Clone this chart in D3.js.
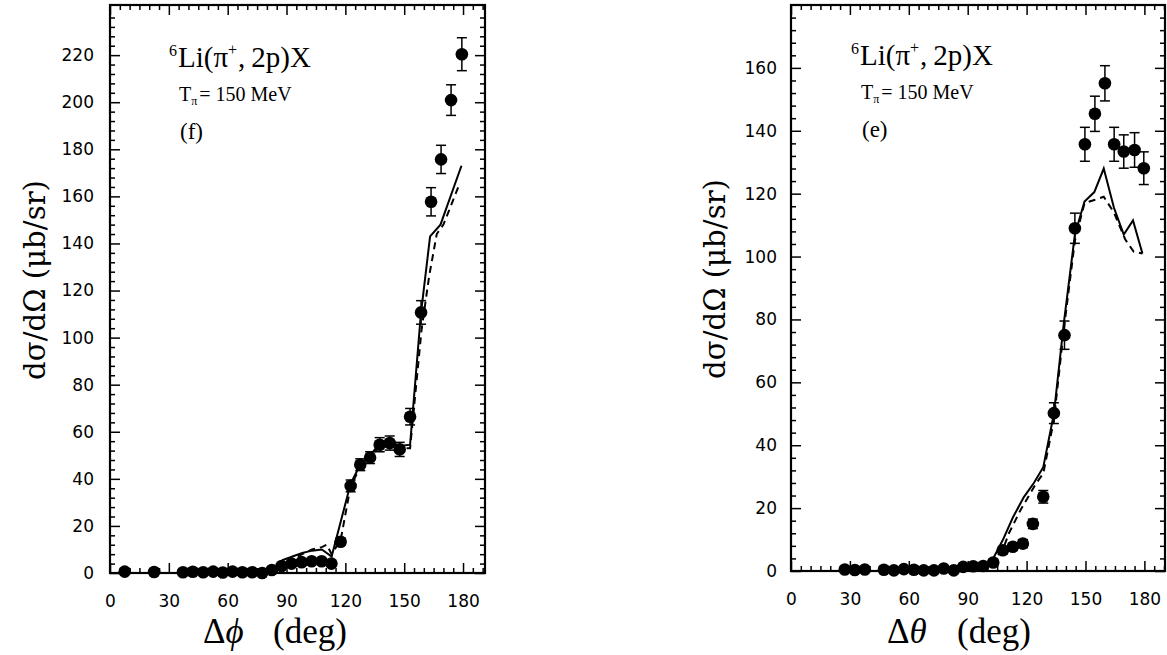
<!DOCTYPE html>
<html>
<head>
<meta charset="utf-8">
<script src="https://cdn.jsdelivr.net/npm/d3@7"></script>
<style>
  html, body { margin: 0; padding: 0; background: #fff; }
  svg { display: block; }
  .tick text { font-family: "DejaVu Sans", "Liberation Sans", sans-serif; font-size: 17px; fill: #000; }
  .domain { display: none; }
  .tick line { stroke: #000; stroke-width: 1.5; }
</style>
</head>
<body>
<svg id="chart" width="1167" height="655"></svg>
<script>
// Shared tick labels (degrees)
const angleTicks = [0, 30, 60, 90, 120, 150, 180];
const phiYTicks = [0, 20, 40, 60, 80, 100, 120, 140, 160, 180, 200, 220];
const thetaYTicks = [0, 20, 40, 60, 80, 100, 120, 140, 160];

// Panel (f): azimuthal correlation, Δφ
const phiAngles = [7.5, 22.5, 37.2, 42.2, 47.5, 52.6, 57.5, 62.5, 67.5, 72.5, 77.6, 82.5, 87.5, 92.6, 97.7, 102.8, 107.9, 112.9, 117.6, 122.7, 127.6, 132.6, 137.5, 142.6, 147.7, 153.0, 158.6, 163.7, 168.8, 173.9, 179.4];
const phiValues = [0.6, 0.4, 0.3, 0.5, 0.3, 0.6, 0.2, 0.6, 0.3, 0.3, 0.0, 1.3, 3.0, 4.0, 4.6, 5.0, 5.0, 4.0, 13.3, 37.0, 46.0, 49.0, 54.5, 55.2, 52.5, 66.4, 110.7, 157.7, 175.7, 200.9, 220.4];
const phiErrors = [1, 1, 1, 1, 1, 1, 1, 1, 1, 1, 1, 1, 1, 1, 1, 1, 1, 1, 1.5, 2.5, 2.5, 2.5, 3, 3, 3, 3.5, 5, 6, 6, 6.5, 7];
const phiSolidX = [80, 85, 88, 93, 98, 103, 108, 113, 122.7, 127.6, 132.6, 137.5, 142.6, 147.7, 153.0, 158.5, 163.2, 168.5, 179.2];
const phiSolidY = [0, 2, 5.5, 7, 8.5, 9.5, 10, 7, 38, 46, 50, 55, 56, 54, 54.5, 110, 143, 148, 173];
const phiDashX = [80, 85, 88, 93, 98, 103, 108, 110.5, 113, 117.6, 122.7, 127.6, 132.6, 137.5, 142.6, 147.7, 153.0, 158.8, 162.7, 166.6, 170, 177.6];
const phiDashY = [0, 1, 4, 6, 8, 10, 11, 12, 8, 14, 37, 45, 49, 54, 55, 53, 53, 103, 126, 144, 148, 164];

// Panel (e): polar opening angle, Δθ
const thetaAngles = [27.4, 32.5, 37.6, 47.3, 52.4, 57.5, 62.6, 67.6, 72.8, 77.8, 82.9, 87.7, 92.8, 97.9, 103.0, 107.9, 113.0, 118.1, 123.2, 128.5, 133.9, 139.3, 144.6, 149.7, 154.8, 159.9, 164.6, 169.5, 175.0, 179.7];
const thetaValues = [0.5, 0.3, 0.5, 0.4, 0.2, 0.6, 0.4, 0.2, 0.2, 0.8, 0.2, 1.3, 1.5, 1.6, 2.7, 6.6, 7.7, 8.7, 15.0, 23.6, 50.2, 75.0, 109.0, 135.7, 145.4, 155.1, 135.7, 133.4, 133.9, 128.1];
const thetaErrors = [0.8, 0.8, 0.8, 0.8, 0.8, 0.8, 0.8, 0.8, 0.8, 0.8, 0.8, 0.8, 0.8, 0.8, 1, 1.2, 1.2, 1.3, 1.5, 2, 3.3, 4.5, 4.8, 5.4, 5.6, 5.6, 5.4, 5.3, 5.5, 5.2];
const thetaSolidX = [90, 98, 103, 108, 113, 118.6, 123.7, 128.5, 133.9, 139.0, 144.6, 149.5, 154.5, 159.3, 164.5, 169.5, 174.2, 179.0];
const thetaSolidY = [0, 1, 4, 10, 17, 23.5, 28, 33, 50, 79, 107, 117.5, 120.5, 128, 115.5, 107, 111.5, 101];
const thetaDashX = [90, 98, 103, 108, 111, 117, 125, 128.5, 133.9, 139.0, 144.6, 149.5, 154.5, 159.3, 164.5, 170.2, 174.6, 179.0];
const thetaDashY = [0, 0.8, 3, 7, 12, 19.5, 28, 31, 48, 77, 105, 117, 118, 119, 114, 105.5, 101.5, 101];

const svg = d3.select("#chart");
const serif = "'DejaVu Serif', 'Liberation Serif', serif";
const romanSerif = "'Liberation Serif', 'DejaVu Serif', serif";

function drawPanel(p) {
  const g = svg.append("g");
  const x = d3.scaleLinear().domain([0, p.xMax]).range([p.left, p.right]);
  const y = d3.scaleLinear().domain([0, p.yMax]).range([p.bottom, p.top]);

  const minorX = d3.range(0, p.xMax, 5).filter(v => v % 30 !== 0);
  const minorY = d3.range(0, p.yMax, p.yMinor).filter(v => v % 20 !== 0);

  // bottom: minor ticks, then major ticks with labels
  g.append("g").attr("transform", `translate(0,${p.bottom})`)
    .call(d3.axisBottom(x).tickValues(minorX).tickSize(-5).tickFormat(""));
  g.append("g").attr("transform", `translate(0,${p.bottom})`)
    .call(d3.axisBottom(x).tickValues(angleTicks).tickSize(-10).tickPadding(22).tickFormat(d3.format("d")));
  // top mirror
  g.append("g").attr("transform", `translate(0,${p.top})`)
    .call(d3.axisTop(x).tickValues(minorX).tickSize(-5).tickFormat(""));
  g.append("g").attr("transform", `translate(0,${p.top})`)
    .call(d3.axisTop(x).tickValues(angleTicks).tickSize(-10).tickFormat(""));
  // left
  g.append("g").attr("transform", `translate(${p.left},0)`)
    .call(d3.axisLeft(y).tickValues(minorY).tickSize(-5).tickFormat(""));
  g.append("g").attr("transform", `translate(${p.left},0)`)
    .call(d3.axisLeft(y).tickValues(p.yTicks).tickSize(-10).tickPadding(p.yPad).tickFormat(d3.format("d")));
  // right mirror
  g.append("g").attr("transform", `translate(${p.right},0)`)
    .call(d3.axisRight(y).tickValues(minorY).tickSize(-5).tickFormat(""));
  g.append("g").attr("transform", `translate(${p.right},0)`)
    .call(d3.axisRight(y).tickValues(p.yTicks).tickSize(-10).tickFormat(""));

  // frame
  g.append("rect")
    .attr("x", p.left).attr("y", p.top)
    .attr("width", p.right - p.left).attr("height", p.bottom - p.top)
    .attr("fill", "none").attr("stroke", "#000").attr("stroke-width", 2.2);

  // model curves
  const line = d3.line().x(d => x(d[0])).y(d => y(d[1]));
  g.append("path")
    .datum(d3.zip(p.dashX, p.dashY))
    .attr("d", line).attr("fill", "none").attr("stroke", "#000")
    .attr("stroke-width", 2).attr("stroke-dasharray", "7,5");
  g.append("path")
    .datum(d3.zip(p.solidX, p.solidY))
    .attr("d", line).attr("fill", "none").attr("stroke", "#000")
    .attr("stroke-width", 2);

  // measured points with error bars
  const pts = d3.zip(p.angles, p.values, p.errors);
  const eb = g.append("g").attr("stroke", "#000").attr("stroke-width", 1.5);
  pts.forEach(([a, v, e]) => {
    const cx = x(a), y1 = y(v - e), y2 = y(v + e);
    eb.append("line").attr("x1", cx).attr("x2", cx).attr("y1", y1).attr("y2", y2);
    eb.append("line").attr("x1", cx - 5).attr("x2", cx + 5).attr("y1", y1).attr("y2", y1);
    eb.append("line").attr("x1", cx - 5).attr("x2", cx + 5).attr("y1", y2).attr("y2", y2);
  });
  g.append("g").selectAll("circle").data(pts).join("circle")
    .attr("cx", d => x(d[0])).attr("cy", d => y(d[1])).attr("r", 6.3).attr("fill", "#000");

  // reaction label
  const t = g.append("text").attr("x", p.annX).attr("y", p.annY)
    .attr("font-family", romanSerif).attr("font-size", 29).attr("fill", "#000");
  t.append("tspan").attr("font-size", 16).attr("dy", -11).text("6");
  t.append("tspan").attr("dy", 11).attr("dx", 1).text("Li(\u03C0");
  t.append("tspan").attr("font-size", 16).attr("dy", -12).text("+");
  t.append("tspan").attr("dy", 12).attr("dx", 1).text(",");
  t.append("tspan").attr("dx", 6).text("2p)X");

  const e = g.append("text").attr("x", p.annX + 10).attr("y", p.annY + 34)
    .attr("font-family", romanSerif).attr("font-size", 20).attr("fill", "#000");
  e.append("tspan").text("T");
  e.append("tspan").attr("font-size", 12).attr("dy", 4).text("\u03C0");
  e.append("tspan").attr("dy", -4).attr("dx", 2).text("= 150 MeV");

  g.append("text").attr("x", p.annX + 11).attr("y", p.annY + 72)
    .attr("font-family", romanSerif).attr("font-size", 23).attr("fill", "#000")
    .text(p.tag);

  // axis titles
  const xt = g.append("text").attr("y", 643).attr("font-family", romanSerif)
    .attr("font-size", 35).attr("fill", "#000");
  xt.append("tspan").attr("x", p.xTitleX).text("\u0394");
  xt.append("tspan").attr("font-style", "italic").text(p.xVar);
  xt.append("tspan").attr("x", p.xTitleX + 70).text("(deg)");

  g.append("text")
    .attr("transform", `translate(${p.yTitleX},${p.yTitleY}) rotate(-90)`)
    .attr("text-anchor", "middle")
    .attr("font-family", serif).attr("font-size", 29).attr("fill", "#000")
    .attr("textLength", 200).attr("lengthAdjust", "spacingAndGlyphs")
    .text("d\u03C3/d\u03A9 (\u03BCb/sr)");
}

drawPanel({
  left: 110, right: 485, top: 5, bottom: 573,
  xMax: 191.2, yMax: 241.3, yTicks: phiYTicks, yMinor: 4, yPad: 16,
  angles: phiAngles, values: phiValues, errors: phiErrors,
  solidX: phiSolidX, solidY: phiSolidY, dashX: phiDashX, dashY: phiDashY,
  annX: 169, annY: 67, tag: "(f)", xVar: "\u03D5", xTitleX: 203,
  yTitleX: 45, yTitleY: 280
});

drawPanel({
  left: 791, right: 1165, top: 5, bottom: 571,
  xMax: 190.5, yMax: 180, yTicks: thetaYTicks, yMinor: 4, yPad: 14,
  angles: thetaAngles, values: thetaValues, errors: thetaErrors,
  solidX: thetaSolidX, solidY: thetaSolidY, dashX: thetaDashX, dashY: thetaDashY,
  annX: 851, annY: 65, tag: "(e)", xVar: "\u03B8", xTitleX: 887,
  yTitleX: 725, yTitleY: 279
});
</script>
</body>
</html>
